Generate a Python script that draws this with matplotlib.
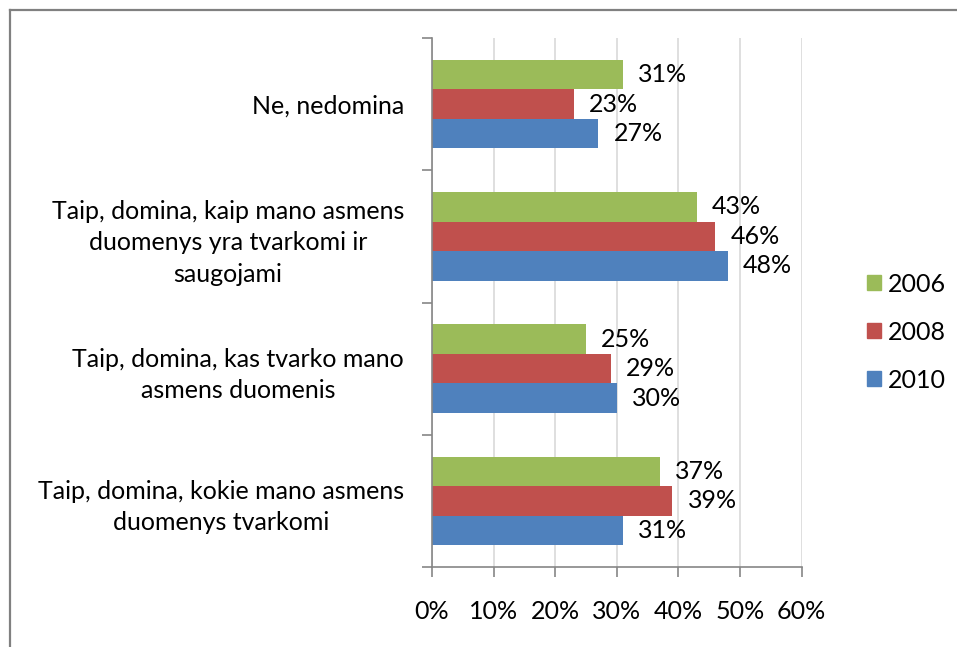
import matplotlib
matplotlib.use("Agg")
import matplotlib.pyplot as plt
from matplotlib.lines import Line2D
from matplotlib.patches import Patch
import numpy as np

plt.rcParams['font.family'] = ['Lato', 'DejaVu Sans']

categories = ["Ne, nedomina",
              "Taip, domina, kaip mano asmens\nduomenys yra tvarkomi ir\nsaugojami",
              "Taip, domina, kas tvarko mano\nasmens duomenis",
              "Taip, domina, kokie mano asmens\nduomenys tvarkomi"]
years = ["2006", "2008", "2010"]
v2006 = [31, 43, 25, 37]
v2008 = [23, 46, 29, 39]
v2010 = [27, 48, 30, 31]
colors = ["#9BBB59", "#C0504D", "#4F81BD"]

fs = 18
W, H = 957, 647
fig = plt.figure(figsize=(W / 100, H / 100), dpi=100)
ax = fig.add_axes([432 / W, 1 - 567 / H, 369.7 / W, 529 / H])

y = np.arange(len(categories))
h = 0.223
for k, (vals, c) in enumerate(zip([v2006, v2008, v2010], colors)):
    bars = ax.barh(y + (k - 1) * h, vals, height=h, color=c, zorder=2)
    ax.bar_label(bars, labels=[f"{v}%" for v in vals], padding=11, fontsize=fs)

ax.set_xlim(0, 60)
ax.set_ylim(3.5, -0.5)
ax.set_xticks(np.arange(0, 61, 10))
ax.set_xticklabels([f"{t}%" for t in range(0, 61, 10)], fontsize=fs)
ax.xaxis.grid(True, color="#D9D9D9", lw=1.2, zorder=0)
ax.set_yticks(np.arange(-0.5, 4, 1))
ax.set_yticklabels([])
ax.set_yticks(y, categories, minor=True)
for lbl in ax.get_yticklabels(minor=True):
    lbl.set_multialignment('center')
    lbl.set_fontsize(fs)
    lbl.set_linespacing(1.45)
ax.tick_params(axis='y', which='minor', length=0, pad=20)
ax.tick_params(axis='both', which='major', length=7, color="#868686", width=1.2)
ax.tick_params(axis='x', pad=17)
for s in ['top', 'right']:
    ax.spines[s].set_visible(False)
for s in ['left', 'bottom']:
    ax.spines[s].set_color("#868686")
    ax.spines[s].set_linewidth(1.2)

handles = [Patch(color=c) for c in colors]
fig.legend(handles, years, loc='center left', bbox_to_anchor=(867 / W, 1 - 332 / H),
           frameon=False, fontsize=fs, handlelength=0.56, handleheight=0.56,
           handletextpad=0.28, labelspacing=1.0, borderpad=0, borderaxespad=0)

# outer frame
fig.add_artist(Line2D([10 / W, 10 / W], [0, 1 - 10 / H], color="#808080", lw=1.6))
fig.add_artist(Line2D([10 / W, 1], [1 - 10 / H, 1 - 10 / H], color="#808080", lw=1.6))

fig.savefig("out.png", dpi=100)
